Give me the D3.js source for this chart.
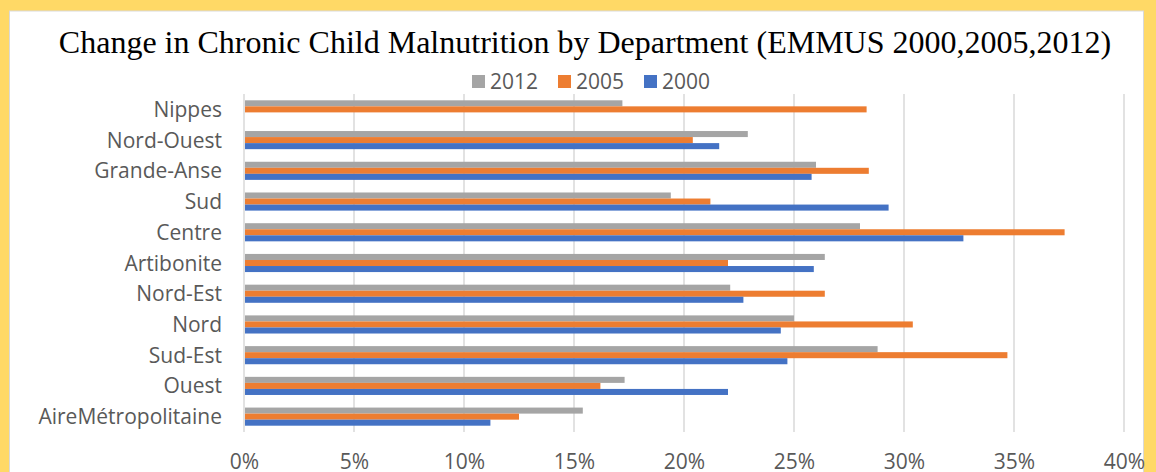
<!DOCTYPE html>
<html>
<head>
<meta charset="utf-8">
<script src="https://cdn.jsdelivr.net/npm/d3@7"></script>
<style>
  html, body { margin: 0; padding: 0; background: #FFD966; }
  svg { display: block; }
  .tick text { font-family: "Open Sans", sans-serif; fill: #595959; }
</style>
</head>
<body>
<svg id="chart" width="1156" height="472"></svg>
<script>
// ------------------------------------
// Data
// ------------------------------------
const departments = [
  "Nippes", "Nord-Ouest", "Grande-Anse", "Sud", "Centre", "Artibonite",
  "Nord-Est", "Nord", "Sud-Est", "Ouest", "AireMétropolitaine"
];
const years = ["2012", "2005", "2000"];
const values2012 = [17.2, 22.9, 26.0, 19.4, 28.0, 26.4, 22.1, 25.0, 28.8, 17.3, 15.4];
const values2005 = [28.3, 20.4, 28.4, 21.2, 37.3, 22.0, 26.4, 30.4, 34.7, 16.2, 12.5];
const values2000 = [null, 21.6, 25.8, 29.3, 32.7, 25.9, 22.7, 24.4, 24.7, 22.0, 11.2];
const xTicks = [0, 5, 10, 15, 20, 25, 30, 35, 40];
const colors = { "2012": "#A5A5A5", "2005": "#ED7D31", "2000": "#4472C4" };

const seriesByYear = { "2012": values2012, "2005": values2005, "2000": values2000 };

const rows = departments.map((name, i) => ({
  name,
  vals: years.map(y => ({ year: y, val: seriesByYear[y][i] }))
}));

// ------------------------------------
// Layout
// ------------------------------------
const svg = d3.select("#chart");
const width = 1156, height = 472;

// white chart frame inside yellow page
svg.append("rect")
  .attr("x", 9.5).attr("y", 11)
  .attr("width", 1134).attr("height", height)
  .attr("fill", "#fff")
  .attr("stroke", "#D9D9D9")
  .attr("stroke-width", 1);

const margin = { top: 94, right: 32, bottom: 40, left: 244 };
const innerWidth = 880;
const innerHeight = 338;

const g = svg.append("g")
  .attr("transform", `translate(${margin.left},${margin.top})`);

const x = d3.scaleLinear().domain([0, 40]).range([0, innerWidth]);

const y = d3.scaleBand()
  .domain(departments)
  .range([0, innerHeight])
  .paddingInner(0.41)
  .paddingOuter(0.205);

const ySub = d3.scaleBand()
  .domain(years)
  .range([0, y.bandwidth()]);

// gridlines
g.selectAll(".grid")
  .data(xTicks)
  .join("line")
  .attr("class", "grid")
  .attr("x1", d => x(d)).attr("x2", d => x(d))
  .attr("y1", 0).attr("y2", innerHeight)
  .attr("stroke", "#D9D9D9")
  .attr("stroke-width", 1.5);

// bars
const groups = g.selectAll(".dept")
  .data(rows)
  .join("g")
  .attr("class", "dept")
  .attr("transform", d => `translate(0,${y(d.name)})`);

groups.selectAll("rect")
  .data(d => d.vals.filter(v => v.val !== null))
  .join("rect")
  .attr("x", x(0) + 1)
  .attr("y", d => ySub(d.year))
  .attr("width", d => x(d.val) - x(0) - 1)
  .attr("height", ySub.bandwidth())
  .attr("fill", d => colors[d.year]);

// category axis (labels only)
const yAxis = g.append("g")
  .call(d3.axisLeft(y).tickSize(0).tickPadding(22));
yAxis.select(".domain").remove();
yAxis.selectAll("text")
  .attr("font-size", 21)
  .attr("dy", "0.36em");

// value axis
const xAxis = g.append("g")
  .attr("transform", `translate(0,${innerHeight})`)
  .call(d3.axisBottom(x).tickValues(xTicks).tickSize(0).tickPadding(22)
    .tickFormat(d => d + "%"));
xAxis.select(".domain").remove();
xAxis.selectAll("text").attr("font-size", 21);

// title
svg.append("text")
  .attr("x", 585)
  .attr("y", 53)
  .attr("text-anchor", "middle")
  .attr("font-family", "'Liberation Serif', 'Times New Roman', serif")
  .attr("font-size", 32)
  .attr("fill", "#000")
  .text("Change in Chronic Child Malnutrition by Department (EMMUS 2000,2005,2012)");

// legend
const legendX = [472, 558, 644];
const legend = svg.append("g").attr("class", "legend");
years.forEach((yr, i) => {
  legend.append("rect")
    .attr("x", legendX[i]).attr("y", 75)
    .attr("width", 13).attr("height", 13)
    .attr("fill", colors[yr]);
  legend.append("text")
    .attr("x", legendX[i] + 18).attr("y", 89)
    .attr("font-family", "'Open Sans', sans-serif")
    .attr("font-size", 21)
    .attr("fill", "#595959")
    .text(yr);
});
</script>
</body>
</html>
